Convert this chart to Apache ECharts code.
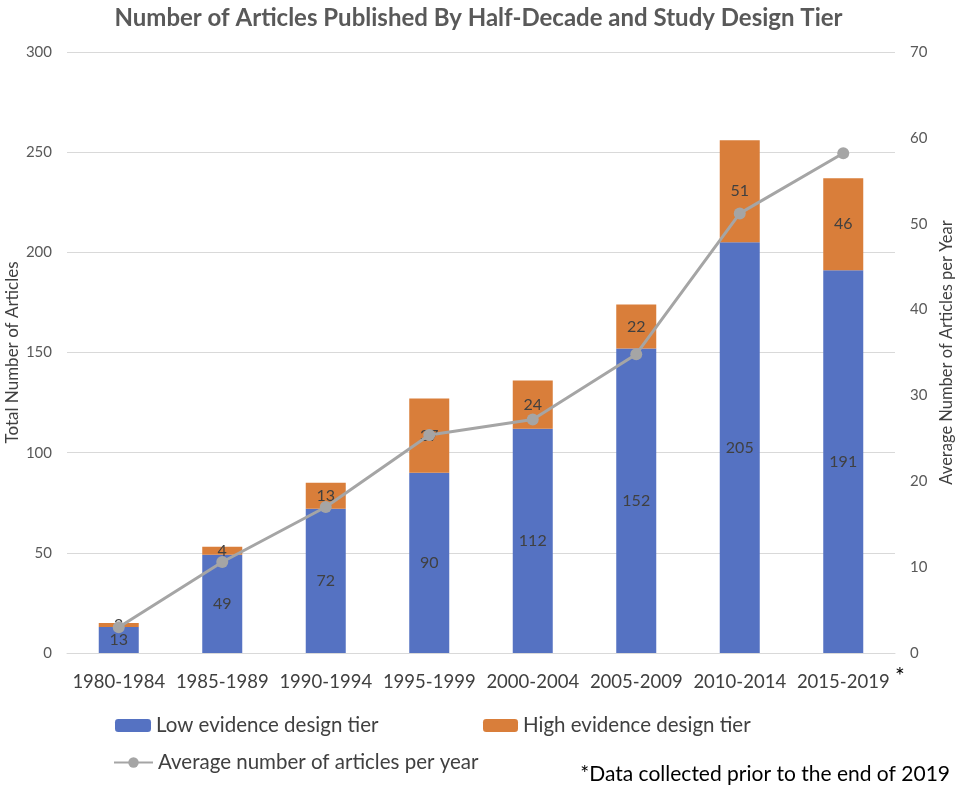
<!DOCTYPE html>
<html>
<head>
<meta charset="utf-8">
<script src="https://cdn.jsdelivr.net/npm/echarts@6/dist/echarts.min.js"></script>
<style>
  html, body { margin: 0; padding: 0; background: #fff; }
  #chart { width: 957px; height: 792px; }
</style>
</head>
<body>
<div id="chart"></div>
<script>
var periods = ['1980-1984', '1985-1989', '1990-1994', '1995-1999', '2000-2004', '2005-2009', '2010-2014', '2015-2019'];
var lowTier = [13, 49, 72, 90, 112, 152, 205, 191];
var highTier = [2, 4, 13, 37, 24, 22, 51, 46];
var avgPerYear = [3, 10.6, 17, 25.4, 27.2, 34.8, 51.2, 58.2];

var FONT = 'Lato, "Open Sans", sans-serif';
var myChart = echarts.init(document.getElementById('chart'));

var legendText = { fontSize: 20.5, color: '#404040', fontFamily: FONT };

var option = {
    animation: false,
    textStyle: { fontFamily: FONT },
    title: {
        text: 'Number of Articles Published By Half-Decade and Study Design Tier',
        left: 'center',
        top: 1,
        textStyle: { fontSize: 24, fontWeight: 'bold', color: '#595959', fontFamily: FONT }
    },
    grid: { left: 67, right: 62, top: 52, bottom: 139, outerBoundsMode: 'none' },
    legend: [{
        data: ['Low evidence design tier'],
        left: 115, top: 715, padding: 0,
        itemWidth: 36, itemHeight: 13, itemGap: 4,
        textStyle: legendText
    }, {
        data: ['High evidence design tier'],
        left: 483, top: 715, padding: 0,
        itemWidth: 35, itemHeight: 13, itemGap: 4,
        textStyle: legendText
    }, {
        data: ['Average number of articles per year'],
        left: 113, top: 752, padding: 0,
        itemWidth: 39, itemHeight: 13, itemGap: 2,
        textStyle: legendText
    }],
    graphic: [{
        type: 'text', left: 895, top: 665,
        style: { text: '*', fontSize: 23, fill: '#000', fontFamily: FONT }
    }, {
        type: 'text', right: 7, top: 764,
        style: { text: '*Data collected prior to the end of 2019', fontSize: 21, fill: '#000', fontFamily: FONT }
    }],
    xAxis: {
        type: 'category',
        data: periods,
        axisLine: { lineStyle: { color: '#D9D9D9', width: 1 } },
        axisTick: { show: false },
        axisLabel: { interval: 0, fontSize: 18.5, color: '#404040', margin: 20, fontFamily: FONT }
    },
    yAxis: [{
        type: 'value',
        min: 0, max: 300, interval: 50,
        name: 'Total Number of Articles',
        nameLocation: 'middle',
        nameGap: 46,
        nameMoveOverlap: false,
        nameTextStyle: { fontSize: 17, color: '#404040', fontFamily: FONT },
        axisLine: { show: false },
        axisTick: { show: false },
        axisLabel: { fontSize: 15, color: '#595959', margin: 15, fontFamily: FONT },
        splitLine: { lineStyle: { color: '#D9D9D9', width: 1 } }
    }, {
        type: 'value',
        min: 0, max: 70, interval: 10,
        name: 'Average Number of Articles per Year',
        nameLocation: 'middle',
        nameGap: 43,
        nameRotate: 90,
        nameMoveOverlap: false,
        nameTextStyle: { fontSize: 16.5, color: '#404040', fontFamily: FONT },
        axisLine: { show: false },
        axisTick: { show: false },
        axisLabel: { fontSize: 15, color: '#595959', margin: 15, fontFamily: FONT },
        splitLine: { show: false }
    }],
    series: [{
        name: 'Low evidence design tier',
        type: 'bar',
        stack: 'tier',
        barWidth: 40,
        data: lowTier,
        itemStyle: { color: '#5572C2' },
        label: { show: true, position: 'inside', fontSize: 16, color: '#404040', fontFamily: FONT }
    }, {
        name: 'High evidence design tier',
        type: 'bar',
        stack: 'tier',
        barWidth: 40,
        data: highTier,
        itemStyle: { color: '#D97E3A' },
        label: { show: true, position: 'inside', fontSize: 16, color: '#404040', fontFamily: FONT }
    }, {
        name: 'Average number of articles per year',
        type: 'line',
        yAxisIndex: 1,
        data: avgPerYear,
        symbol: 'circle',
        symbolSize: 12,
        lineStyle: { color: '#A5A5A5', width: 3 },
        itemStyle: { color: '#A5A5A5' },
        z: 2
    }]
};

myChart.setOption(option);
</script>
</body>
</html>
